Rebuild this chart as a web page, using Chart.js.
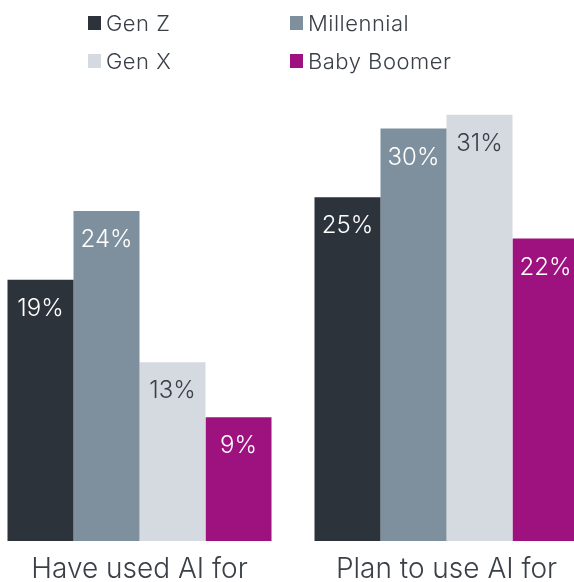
<!DOCTYPE html>
<html>
<head>
<meta charset="utf-8">
<script src="https://cdn.jsdelivr.net/npm/chart.js@4"></script>
<style>
  html, body { margin: 0; padding: 0; background: #fff; }
  body { width: 574px; height: 582px; position: relative; overflow: hidden; font-family: Inter, "Noto Sans", sans-serif; }
  .wrap { position: absolute; left: -14px; top: 0; width: 614px; height: 582px; }
  .legend { position: absolute; left: 88px; top: 10px; width: 480px; }
  .item { position: absolute; display: flex; align-items: center; font-size: 22px; font-weight: 300; color: #3b4048; letter-spacing: 0.5px; white-space: nowrap; }
  .item span.box { display: inline-block; width: 13px; height: 14px; margin-right: 5px; }
</style>
</head>
<body>
<div class="wrap"><canvas id="myChart"></canvas></div>
<div class="legend" id="legend"></div>
<script>
// Chart data
const categories = ["Have used AI for", "Plan to use AI for"];
const seriesNames = ["Gen Z", "Millennial", "Gen X", "Baby Boomer"];
const genZ = [19, 25];
const millennial = [24, 30];
const genX = [13, 31];
const babyBoomer = [9, 22];

const colors = ["#2d333b", "#7e909e", "#d5d9e0", "#9e1280"];
const labelColors = ["#ffffff", "#ffffff", "#3b4048", "#ffffff"];

// legend in a 2x2 grid
const legend = document.getElementById("legend");
seriesNames.forEach((name, i) => {
  const el = document.createElement("div");
  el.className = "item";
  el.style.left = (i % 2) * 202 + "px";
  el.style.top = Math.floor(i / 2) * 38 + "px";
  el.innerHTML = `<span class="box" style="background:${colors[i]}"></span>${name}`;
  legend.appendChild(el);
});

// value labels inside the top of each bar
const valueLabels = {
  id: "valueLabels",
  afterDatasetsDraw(chart) {
    const ctx = chart.ctx;
    ctx.save();
    ctx.font = "300 24px Inter, 'Noto Sans', sans-serif";
    ctx.textAlign = "center";
    ctx.textBaseline = "middle";
    chart.data.datasets.forEach((ds, i) => {
      chart.getDatasetMeta(i).data.forEach((bar, j) => {
        ctx.fillStyle = labelColors[i];
        ctx.fillText(ds.data[j] + "%", bar.x, bar.y + 29);
      });
    });
    ctx.restore();
  },
};

const allSeries = [genZ, millennial, genX, babyBoomer];

const ctx = document.getElementById("myChart").getContext("2d");
new Chart(ctx, {
  type: "bar",
  data: {
    labels: categories,
    datasets: allSeries.map((data, i) => ({
      label: seriesNames[i],
      data: data,
      backgroundColor: colors[i],
      borderWidth: 0,
      categoryPercentage: 0.86,
      barPercentage: 1,
    })),
  },
  options: {
    responsive: true,
    maintainAspectRatio: false,
    animation: false,
    layout: { padding: { top: 101, left: 0, right: 0, bottom: 0 } },
    plugins: {
      legend: { display: false },
      tooltip: { enabled: false },
    },
    scales: {
      x: {
        grid: { display: false },
        border: { display: false },
        ticks: {
          color: "#3b4048",
          padding: 4,
          font: { family: "Inter, 'Noto Sans', sans-serif", size: 28, weight: 300 },
        },
        afterFit(scale) {
          scale.height = 41;
        },
      },
      y: {
        display: false,
        min: 0,
        max: 32,
      },
    },
  },
  plugins: [valueLabels],
});
</script>
</body>
</html>
